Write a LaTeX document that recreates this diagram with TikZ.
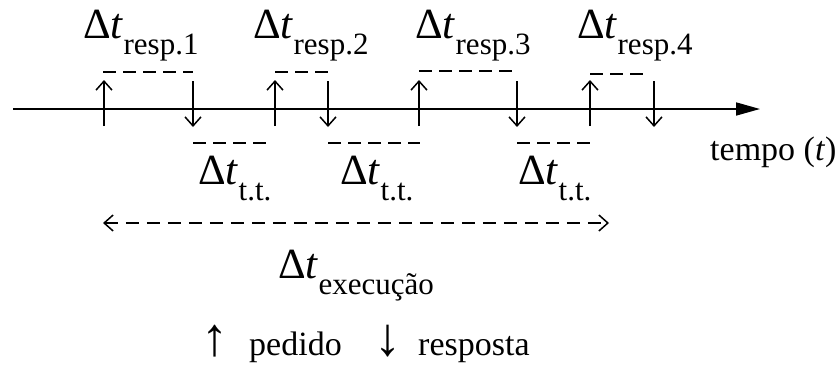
\documentclass[tikz,border=0pt]{standalone}
\usepackage{fontspec}
\setmainfont{Liberation Serif}
\usetikzlibrary{arrows.meta}
\newcommand\dlab[1]{Δ\textit{t}\raisebox{-16pt}{\fontsize{31}{31}\selectfont #1}}
\begin{document}
\begin{tikzpicture}[x=1pt,y=-1pt,
  lbl/.style={anchor=base west,inner sep=0pt,font=\fontsize{43}{43}\selectfont},
  txt/.style={anchor=base west,inner sep=0pt,font=\fontsize{34}{34}\selectfont},
  sym/.style={anchor=base,inner sep=0pt,font=\fontsize{54}{54}\selectfont},
  tick/.style={line width=1.5pt,-{Straight Barb[length=9pt,width=16pt]}},
  dsh/.style={line width=1.7pt,dash pattern=on 13pt off 7pt},
  axis/.style={line width=1.7pt,-{Triangle[length=24pt,width=13pt]}}]
\useasboundingbox (0,0) rectangle (840,365);
% axis
\coordinate (a0) at (13,109);
\coordinate (a1) at (760,109);
\draw[axis] (a0) -- (a1);
% requests (up)
\foreach \n/\x in {1/104,2/275,3/419,4/590}{
  \coordinate (u\n b) at (\x,126);
  \coordinate (u\n t) at (\x,80);
  \draw[tick] (u\n b) -- (u\n t);
}
% responses (down)
\foreach \n/\x in {1/193,2/328,3/517,4/654}{
  \coordinate (d\n t) at (\x,81);
  \coordinate (d\n b) at (\x,127);
  \draw[tick] (d\n t) -- (d\n b);
}
% response-time dashed lines (top)
\coordinate (r1a) at (103,72); \coordinate (r1b) at (193,72);
\coordinate (r2a) at (275,72); \coordinate (r2b) at (330,72);
\coordinate (r3a) at (419,71); \coordinate (r3b) at (518,71);
\coordinate (r4a) at (590,74); \coordinate (r4b) at (647,74);
\foreach \n in {1,2,3,4}{\draw[dsh] (r\n a) -- (r\n b);}
% think-time dashed lines (bottom)
\coordinate (t1a) at (193,143); \coordinate (t1b) at (273,143);
\coordinate (t2a) at (328,143); \coordinate (t2b) at (420,143);
\coordinate (t3a) at (517,143); \coordinate (t3b) at (592,143);
\foreach \n in {1,2,3}{\draw[dsh] (t\n a) -- (t\n b);}
% labels
\node[lbl] (lr1) at (83,38) {\dlab{resp.1}};
\node[lbl] (lr2) at (253,38) {\dlab{resp.2}};
\node[lbl] (lr3) at (415,38) {\dlab{resp.3}};
\node[lbl] (lr4) at (577,38) {\dlab{resp.4}};
\node[lbl] (lt1) at (198,184) {\dlab{t.t.}};
\node[lbl] (lt2) at (340,184) {\dlab{t.t.}};
\node[lbl] (lt3) at (518,184) {\dlab{t.t.}};
\node[txt] (tempo) at (710,160) {tempo (\textit{t})};
% execution
\coordinate (e0) at (103,223);
\coordinate (e1) at (609,223);
\draw[line width=1.5pt,dash pattern=on 13pt off 8pt,{Straight Barb[length=9pt,width=16pt]}-{Straight Barb[length=9pt,width=16pt]}] (e0) -- (e1);
\node[lbl] (lex) at (278,278) {\dlab{execução}};
% legend
\node[sym] (lup) at (215,355) {↑};
\node[txt] (lped) at (249,355) {pedido};
\node[sym] (ldn) at (388,355) {↓};
\node[txt] (lres) at (418,355) {resposta};
\end{tikzpicture}
\end{document}
